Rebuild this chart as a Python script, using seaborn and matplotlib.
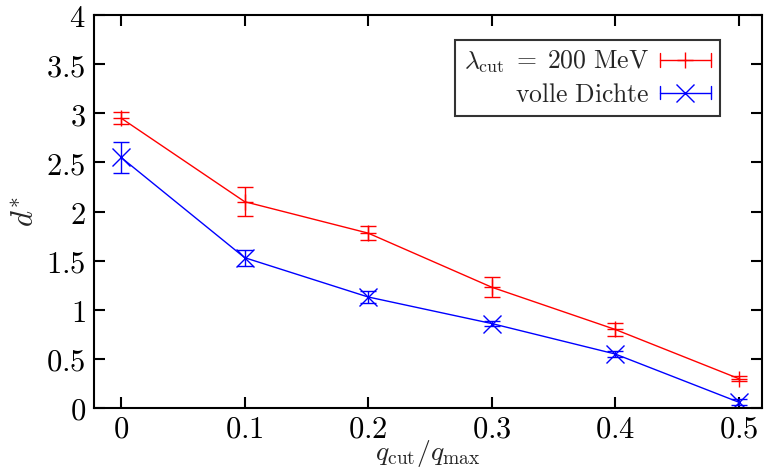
import matplotlib
matplotlib.use("Agg")
import matplotlib.pyplot as plt
import seaborn as sns
import pandas as pd
from matplotlib.lines import Line2D
from matplotlib.legend_handler import HandlerBase

x_vals = [0.0, 0.1, 0.2, 0.3, 0.4, 0.5]
red_vals = [2.95, 2.10, 1.78, 1.23, 0.80, 0.30]
red_err = [0.06, 0.15, 0.07, 0.10, 0.07, 0.03]
blue_vals = [2.55, 1.53, 1.13, 0.86, 0.55, 0.06]
blue_err = [0.16, 0.08, 0.06, 0.03, 0.03, 0.03]
x_ticks = [0, 0.1, 0.2, 0.3, 0.4, 0.5]
x_ticklabels = ["0", "0.1", "0.2", "0.3", "0.4", "0.5"]
y_ticks = [0, 0.5, 1, 1.5, 2, 2.5, 3, 3.5, 4]
y_ticklabels = ["0", "0.5", "1", "1.5", "2", "2.5", "3", "3.5", "4"]
label_red = r"$\lambda_{\rm cut}\;=\;\mathrm{200\ MeV}$"
label_blue = r"$\mathrm{volle\ Dichte}$"

sns.set_theme(style="ticks")
plt.rcParams["mathtext.fontset"] = "cm"
plt.rcParams["font.family"] = ["serif"]
plt.rcParams["font.serif"] = ["DejaVu Serif"]

df = pd.DataFrame({"x": x_vals * 2, "y": red_vals + blue_vals,
                   "err": red_err + blue_err,
                   "series": [label_red] * 6 + [label_blue] * 6})

fig = plt.figure(figsize=(7.67, 4.71), dpi=100)
ax = fig.add_axes([94 / 767, 1 - 408 / 471, (762 - 94) / 767, (408 - 15) / 471])

palette = {label_red: "#ff0000", label_blue: "#0000ff"}
markers = {label_red: "+", label_blue: "x"}
msizes = {label_red: 11, label_blue: 13}
sns.lineplot(data=df, x="x", y="y", hue="series", palette=palette, ax=ax,
             legend=False, linewidth=1.0)
for name in [label_red, label_blue]:
    sub = df[df.series == name]
    ax.errorbar(sub.x, sub.y, yerr=sub.err, fmt="none", ecolor=palette[name],
                elinewidth=1.0, capsize=6, capthick=1.0)
    ax.plot(sub.x, sub.y, linestyle="none", marker=markers[name],
            color=palette[name], markersize=msizes[name], markeredgewidth=1.0)


class ErrHandler(HandlerBase):
    def __init__(self, color, marker, ms):
        super().__init__()
        self.color, self.marker, self.ms = color, marker, ms

    def create_artists(self, legend, orig_handle, xdescent, ydescent, width,
                       height, fontsize, trans):
        y = height / 2 - ydescent
        x0, x1 = -xdescent, -xdescent + width
        c = 5
        arts = [
            Line2D([x0, x1], [y, y], color=self.color, lw=1.0),
            Line2D([x0, x0], [y - c, y + c], color=self.color, lw=1.0),
            Line2D([x1, x1], [y - c, y + c], color=self.color, lw=1.0),
            Line2D([(x0 + x1) / 2], [y], color=self.color, marker=self.marker,
                   ms=self.ms, mew=1.0, linestyle="none"),
        ]
        for a in arts:
            a.set_transform(trans)
        return arts


h_red = Line2D([], [], color="red")
h_blue = Line2D([], [], color="blue")
leg = ax.legend([h_red, h_blue], [label_red, label_blue], loc="upper right",
                bbox_to_anchor=(0.937, 0.937), frameon=True, fancybox=False,
                edgecolor="black", fontsize=18.5, markerfirst=False,
                handlelength=2.0, borderpad=0.35, labelspacing=0.25,
                handletextpad=0.4, borderaxespad=0.0,
                handler_map={h_red: ErrHandler("red", "+", msizes[label_red]),
                             h_blue: ErrHandler("blue", "x", msizes[label_blue])})
leg.get_frame().set_linewidth(1.5)
for t in leg.get_texts():
    t.set_horizontalalignment("right")
leg._legend_box.align = "right"

ax.set_xlim(-0.022, 0.519)
ax.set_ylim(0, 4)
ax.set_xticks(x_ticks)
ax.set_xticklabels(["$" + s + "$" for s in x_ticklabels], fontsize=22)
ax.set_yticks(y_ticks)
ax.set_yticklabels(["$" + s + "$" for s in y_ticklabels], fontsize=22)
ax.tick_params(direction="in", length=8, width=1.5, top=True, right=True,
               colors="black", pad=6)
ax.tick_params(axis="x", pad=4)
for s in ax.spines.values():
    s.set_linewidth(1.5)
    s.set_color("black")
ax.set_xlabel(r"$q_{\rm cut}/q_{\rm max}$", fontsize=20, labelpad=-5)
ax.set_ylabel(r"$d^{*}$", fontsize=22, labelpad=4)
ax.grid(False)

fig.savefig("out.png", dpi=100)
